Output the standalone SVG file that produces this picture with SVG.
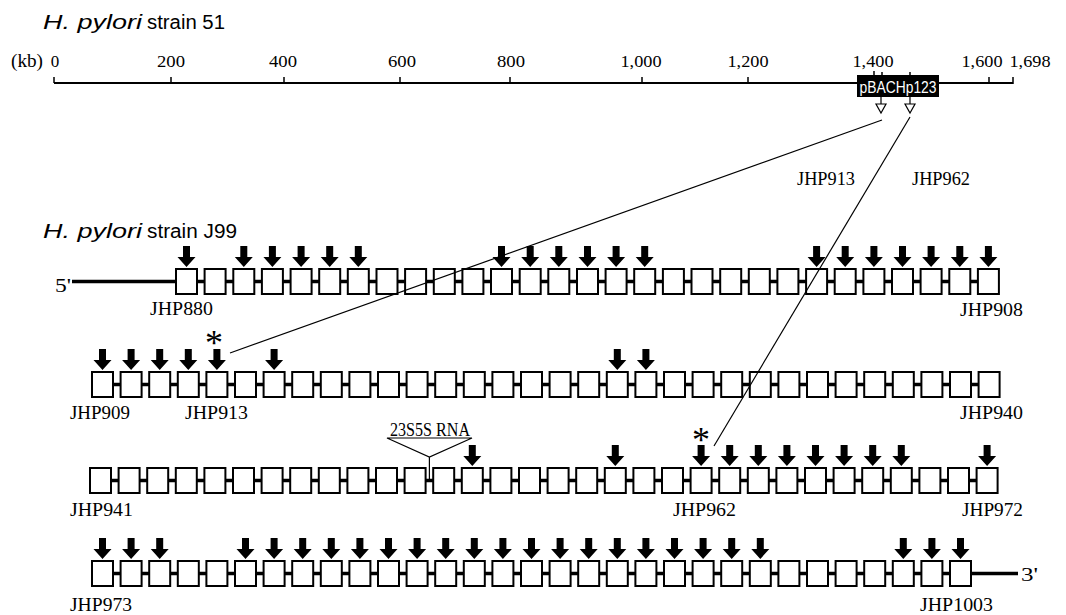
<svg xmlns="http://www.w3.org/2000/svg" xmlns:xlink="http://www.w3.org/1999/xlink" width="1066" height="615" viewBox="0 0 1066 615">
<style>
.box{fill:#fff;stroke:#000;stroke-width:2}
.bb{stroke:#000;stroke-width:3.5;fill:none}
.lbl{font-family:"Liberation Serif","Times New Roman",serif;font-size:18px;fill:#000}
.tk{font-family:"Liberation Serif","Times New Roman",serif;font-size:17px;fill:#000;text-anchor:middle}
.ttl{font-family:"Liberation Sans",Arial,sans-serif;font-size:20px;fill:#000}
.ast{font-family:"Liberation Serif","Times New Roman",serif;font-size:36px;fill:#000;text-anchor:middle}
.conn{stroke:#000;stroke-width:1.2;fill:none}
.ax{stroke:#000;stroke-width:2;fill:none}
.tick{stroke:#000;stroke-width:1.5;fill:none}
.hol{fill:#fff;stroke:#000;stroke-width:1.2}
</style>
<defs>
<rect id="b" width="21" height="25" class="box"/>
<path id="a" d="M-3.5,-22 h7 v11 h5.5 l-9,10 l-9,-10 h5.5 z" fill="#000"/>
</defs>

<g id="titles">
<text class="ttl" x="43" y="29" font-style="italic" textLength="99" lengthAdjust="spacingAndGlyphs">H. pylori</text>
<text class="ttl" x="147" y="29" textLength="78" lengthAdjust="spacingAndGlyphs">strain 51</text>
<text class="ttl" x="43" y="238" font-style="italic" textLength="99" lengthAdjust="spacingAndGlyphs">H. pylori</text>
<text class="ttl" x="147" y="238" textLength="90" lengthAdjust="spacingAndGlyphs">strain J99</text>
</g>

<g id="map51">
<line class="ax" x1="54" y1="83" x2="1013" y2="83"/>
<path class="tick" d="M54,77V83 M171,77V83 M284,77V83 M400,77V83 M510,77V83 M642,77V83 M748,77V83 M874,71V83 M989,77V83 M1013,77V84 M882,72V80 M910,72V80"/>
<text class="lbl" x="11" y="67" textLength="32" lengthAdjust="spacingAndGlyphs" font-size="17">(kb)</text>
<text class="tk" x="55" y="67">0</text>
<text class="tk" x="171" y="67" textLength="28" lengthAdjust="spacingAndGlyphs">200</text>
<text class="tk" x="283" y="67" textLength="28" lengthAdjust="spacingAndGlyphs">400</text>
<text class="tk" x="402" y="67" textLength="28" lengthAdjust="spacingAndGlyphs">600</text>
<text class="tk" x="511" y="67" textLength="28" lengthAdjust="spacingAndGlyphs">800</text>
<text class="tk" x="641" y="67" textLength="41" lengthAdjust="spacingAndGlyphs">1,000</text>
<text class="tk" x="748" y="67" textLength="41" lengthAdjust="spacingAndGlyphs">1,200</text>
<text class="tk" x="873" y="67" textLength="41" lengthAdjust="spacingAndGlyphs">1,400</text>
<text class="tk" x="982" y="67" textLength="41" lengthAdjust="spacingAndGlyphs">1,600</text>
<text class="tk" x="1030" y="67" textLength="41" lengthAdjust="spacingAndGlyphs">1,698</text>
</g>

<g id="pBACHp123">
<rect x="857" y="75" width="82" height="22" fill="#000"/>
<text x="898" y="92.5" text-anchor="middle" font-family="'Liberation Sans',Arial,sans-serif" font-size="17" fill="#fff" textLength="77" lengthAdjust="spacingAndGlyphs">pBACHp123</text>
<line class="conn" x1="881" y1="97" x2="881" y2="104"/>
<path class="hol" d="M876,104 H886 L881,113 Z"/>
<line class="conn" x1="910" y1="97" x2="910" y2="104"/>
<path class="hol" d="M905,104 H915 L910,113 Z"/>
<text class="lbl" x="797" y="185" font-size="16" textLength="58" lengthAdjust="spacingAndGlyphs">JHP913</text>
<text class="lbl" x="912" y="185" font-size="16" textLength="58" lengthAdjust="spacingAndGlyphs">JHP962</text>
</g>

<g id="row1">
<line class="bb" x1="72" y1="281.5" x2="999" y2="281.5"/>
<text class="lbl" x="55" y="292" font-size="20" textLength="16" lengthAdjust="spacingAndGlyphs">5'</text>
<g id="row1-genes">
<use id="JHP880" href="#b" x="176" y="269"/><use id="JHP881" href="#b" x="204.6" y="269"/><use id="JHP882" href="#b" x="233.3" y="269"/><use id="JHP883" href="#b" x="261.9" y="269"/><use id="JHP884" href="#b" x="290.6" y="269"/><use id="JHP885" href="#b" x="319.2" y="269"/><use id="JHP886" href="#b" x="347.8" y="269"/><use id="JHP887" href="#b" x="376.5" y="269"/><use id="JHP888" href="#b" x="405.1" y="269"/><use id="JHP889" href="#b" x="433.8" y="269"/><use id="JHP890" href="#b" x="462.4" y="269"/><use id="JHP891" href="#b" x="491" y="269"/><use id="JHP892" href="#b" x="519.7" y="269"/><use id="JHP893" href="#b" x="548.3" y="269"/><use id="JHP894" href="#b" x="577" y="269"/><use id="JHP895" href="#b" x="605.6" y="269"/><use id="JHP896" href="#b" x="634.2" y="269"/><use id="JHP897" href="#b" x="662.9" y="269"/><use id="JHP898" href="#b" x="691.5" y="269"/><use id="JHP899" href="#b" x="720.2" y="269"/><use id="JHP900" href="#b" x="748.8" y="269"/><use id="JHP901" href="#b" x="777.4" y="269"/><use id="JHP902" href="#b" x="806.1" y="269"/><use id="JHP903" href="#b" x="834.7" y="269"/><use id="JHP904" href="#b" x="863.4" y="269"/><use id="JHP905" href="#b" x="892" y="269"/><use id="JHP906" href="#b" x="920.6" y="269"/><use id="JHP907" href="#b" x="949.3" y="269"/><use id="JHP908" href="#b" x="977.9" y="269"/>
</g>
<g id="row1-arrows">
<use href="#a" x="186.5" y="268"/><use href="#a" x="243.8" y="268"/><use href="#a" x="272.4" y="268"/><use href="#a" x="301.1" y="268"/><use href="#a" x="329.7" y="268"/><use href="#a" x="358.3" y="268"/><use href="#a" x="501.5" y="268"/><use href="#a" x="530.2" y="268"/><use href="#a" x="558.8" y="268"/><use href="#a" x="587.5" y="268"/><use href="#a" x="616.1" y="268"/><use href="#a" x="644.7" y="268"/><use href="#a" x="816.6" y="268"/><use href="#a" x="845.2" y="268"/><use href="#a" x="873.9" y="268"/><use href="#a" x="902.5" y="268"/><use href="#a" x="931.1" y="268"/><use href="#a" x="959.8" y="268"/><use href="#a" x="988.4" y="268"/>
</g>
<text class="lbl" x="150" y="315" textLength="63" lengthAdjust="spacingAndGlyphs">JHP880</text>
<text class="lbl" x="960" y="316" textLength="63" lengthAdjust="spacingAndGlyphs">JHP908</text>
</g>

<g id="row2">
<line class="bb" x1="92" y1="384.5" x2="999" y2="384.5"/>
<g id="row2-genes">
<use id="JHP909" href="#b" x="92" y="372"/><use id="JHP910" href="#b" x="120.6" y="372"/><use id="JHP911" href="#b" x="149.2" y="372"/><use id="JHP912" href="#b" x="177.8" y="372"/><use id="JHP913" href="#b" x="206.4" y="372"/><use id="JHP914" href="#b" x="235" y="372"/><use id="JHP915" href="#b" x="263.6" y="372"/><use id="JHP916" href="#b" x="292.2" y="372"/><use id="JHP917" href="#b" x="320.8" y="372"/><use id="JHP918" href="#b" x="349.4" y="372"/><use id="JHP919" href="#b" x="378" y="372"/><use id="JHP920" href="#b" x="406.6" y="372"/><use id="JHP921" href="#b" x="435.2" y="372"/><use id="JHP922" href="#b" x="463.8" y="372"/><use id="JHP923" href="#b" x="492.4" y="372"/><use id="JHP924" href="#b" x="521" y="372"/><use id="JHP925" href="#b" x="549.6" y="372"/><use id="JHP926" href="#b" x="578.2" y="372"/><use id="JHP927" href="#b" x="606.8" y="372"/><use id="JHP928" href="#b" x="635.4" y="372"/><use id="JHP929" href="#b" x="664" y="372"/><use id="JHP930" href="#b" x="692.6" y="372"/><use id="JHP931" href="#b" x="721.2" y="372"/><use id="JHP932" href="#b" x="749.8" y="372"/><use id="JHP933" href="#b" x="778.4" y="372"/><use id="JHP934" href="#b" x="807" y="372"/><use id="JHP935" href="#b" x="835.6" y="372"/><use id="JHP936" href="#b" x="864.2" y="372"/><use id="JHP937" href="#b" x="892.8" y="372"/><use id="JHP938" href="#b" x="921.4" y="372"/><use id="JHP939" href="#b" x="950" y="372"/><use id="JHP940" href="#b" x="978.6" y="372"/>
</g>
<g id="row2-arrows">
<use href="#a" x="102.5" y="371"/><use href="#a" x="131.1" y="371"/><use href="#a" x="159.7" y="371"/><use href="#a" x="188.3" y="371"/><use href="#a" x="216.9" y="371"/><use href="#a" x="274.1" y="371"/><use href="#a" x="617.3" y="371"/><use href="#a" x="645.9" y="371"/>
</g>
<text class="ast" x="214" y="355">*</text>
<text class="lbl" x="70" y="419" textLength="60" lengthAdjust="spacingAndGlyphs">JHP909</text>
<text class="lbl" x="185" y="419" textLength="63" lengthAdjust="spacingAndGlyphs">JHP913</text>
<text class="lbl" x="960" y="419" textLength="63" lengthAdjust="spacingAndGlyphs">JHP940</text>
</g>

<g id="row3">
<line class="bb" x1="90" y1="480.5" x2="997" y2="480.5"/>
<g id="row3-genes">
<use id="JHP941" href="#b" x="90" y="468"/><use id="JHP942" href="#b" x="118.6" y="468"/><use id="JHP943" href="#b" x="147.2" y="468"/><use id="JHP944" href="#b" x="175.8" y="468"/><use id="JHP945" href="#b" x="204.4" y="468"/><use id="JHP946" href="#b" x="233" y="468"/><use id="JHP947" href="#b" x="261.6" y="468"/><use id="JHP948" href="#b" x="290.2" y="468"/><use id="JHP949" href="#b" x="318.8" y="468"/><use id="JHP950" href="#b" x="347.4" y="468"/><use id="JHP951" href="#b" x="376" y="468"/><use id="JHP952" href="#b" x="404.6" y="468"/><use id="JHP953" href="#b" x="433.2" y="468"/><use id="JHP954" href="#b" x="461.8" y="468"/><use id="JHP955" href="#b" x="490.4" y="468"/><use id="JHP956" href="#b" x="519" y="468"/><use id="JHP957" href="#b" x="547.6" y="468"/><use id="JHP958" href="#b" x="576.2" y="468"/><use id="JHP959" href="#b" x="604.8" y="468"/><use id="JHP960" href="#b" x="633.4" y="468"/><use id="JHP961" href="#b" x="662" y="468"/><use id="JHP962" href="#b" x="690.6" y="468"/><use id="JHP963" href="#b" x="719.2" y="468"/><use id="JHP964" href="#b" x="747.8" y="468"/><use id="JHP965" href="#b" x="776.4" y="468"/><use id="JHP966" href="#b" x="805" y="468"/><use id="JHP967" href="#b" x="833.6" y="468"/><use id="JHP968" href="#b" x="862.2" y="468"/><use id="JHP969" href="#b" x="890.8" y="468"/><use id="JHP970" href="#b" x="919.4" y="468"/><use id="JHP971" href="#b" x="948" y="468"/><use id="JHP972" href="#b" x="976.6" y="468"/>
</g>
<g id="row3-arrows">
<use href="#a" x="472.3" y="467"/><use href="#a" x="615.3" y="467"/><use href="#a" x="701.1" y="467"/><use href="#a" x="729.7" y="467"/><use href="#a" x="758.3" y="467"/><use href="#a" x="786.9" y="467"/><use href="#a" x="815.5" y="467"/><use href="#a" x="844.1" y="467"/><use href="#a" x="872.7" y="467"/><use href="#a" x="901.3" y="467"/><use href="#a" x="987.1" y="467"/>
</g>
<g id="rRNA">
<path class="conn" d="M387,438 H472 L429.4,457 Z M429.4,457 V480"/>
<text class="lbl" x="430" y="436" text-anchor="middle" font-size="14" textLength="80" lengthAdjust="spacingAndGlyphs">23S5S RNA</text>
</g>
<text class="ast" x="701" y="452">*</text>
<text class="lbl" x="70" y="516" textLength="63" lengthAdjust="spacingAndGlyphs">JHP941</text>
<text class="lbl" x="673" y="516" textLength="63" lengthAdjust="spacingAndGlyphs">JHP962</text>
<text class="lbl" x="962" y="516" textLength="61" lengthAdjust="spacingAndGlyphs">JHP972</text>
</g>

<g id="row4">
<line class="bb" x1="92" y1="573.5" x2="1018" y2="573.5"/>
<g id="row4-genes">
<use id="JHP973" href="#b" x="92" y="561"/><use id="JHP974" href="#b" x="120.6" y="561"/><use id="JHP975" href="#b" x="149.2" y="561"/><use id="JHP976" href="#b" x="177.8" y="561"/><use id="JHP977" href="#b" x="206.4" y="561"/><use id="JHP978" href="#b" x="235" y="561"/><use id="JHP979" href="#b" x="263.6" y="561"/><use id="JHP980" href="#b" x="292.2" y="561"/><use id="JHP981" href="#b" x="320.8" y="561"/><use id="JHP982" href="#b" x="349.4" y="561"/><use id="JHP983" href="#b" x="378" y="561"/><use id="JHP984" href="#b" x="406.6" y="561"/><use id="JHP985" href="#b" x="435.2" y="561"/><use id="JHP986" href="#b" x="463.8" y="561"/><use id="JHP987" href="#b" x="492.4" y="561"/><use id="JHP988" href="#b" x="521" y="561"/><use id="JHP989" href="#b" x="549.6" y="561"/><use id="JHP990" href="#b" x="578.2" y="561"/><use id="JHP991" href="#b" x="606.8" y="561"/><use id="JHP992" href="#b" x="635.4" y="561"/><use id="JHP993" href="#b" x="664" y="561"/><use id="JHP994" href="#b" x="692.6" y="561"/><use id="JHP995" href="#b" x="721.2" y="561"/><use id="JHP996" href="#b" x="749.8" y="561"/><use id="JHP997" href="#b" x="778.4" y="561"/><use id="JHP998" href="#b" x="807" y="561"/><use id="JHP999" href="#b" x="835.6" y="561"/><use id="JHP1000" href="#b" x="864.2" y="561"/><use id="JHP1001" href="#b" x="892.8" y="561"/><use id="JHP1002" href="#b" x="921.4" y="561"/><use id="JHP1003" href="#b" x="950" y="561"/>
</g>
<g id="row4-arrows">
<use href="#a" x="102.5" y="560"/><use href="#a" x="131.1" y="560"/><use href="#a" x="159.7" y="560"/><use href="#a" x="245.5" y="560"/><use href="#a" x="274.1" y="560"/><use href="#a" x="302.7" y="560"/><use href="#a" x="331.3" y="560"/><use href="#a" x="359.9" y="560"/><use href="#a" x="388.5" y="560"/><use href="#a" x="417.1" y="560"/><use href="#a" x="445.7" y="560"/><use href="#a" x="474.3" y="560"/><use href="#a" x="502.9" y="560"/><use href="#a" x="531.5" y="560"/><use href="#a" x="560.1" y="560"/><use href="#a" x="588.7" y="560"/><use href="#a" x="617.3" y="560"/><use href="#a" x="645.9" y="560"/><use href="#a" x="674.5" y="560"/><use href="#a" x="703.1" y="560"/><use href="#a" x="731.7" y="560"/><use href="#a" x="760.3" y="560"/><use href="#a" x="903.3" y="560"/><use href="#a" x="931.9" y="560"/><use href="#a" x="960.5" y="560"/>
</g>
<text class="lbl" x="1021" y="581" font-size="20" textLength="17" lengthAdjust="spacingAndGlyphs">3'</text>
<text class="lbl" x="70" y="611" textLength="62" lengthAdjust="spacingAndGlyphs">JHP973</text>
<text class="lbl" x="920" y="611" textLength="73" lengthAdjust="spacingAndGlyphs">JHP1003</text>
</g>

<g id="connectors">
<line class="conn" x1="882" y1="120" x2="230" y2="353"/>
<line class="conn" x1="910" y1="117" x2="714" y2="446"/>
</g>
</svg>
